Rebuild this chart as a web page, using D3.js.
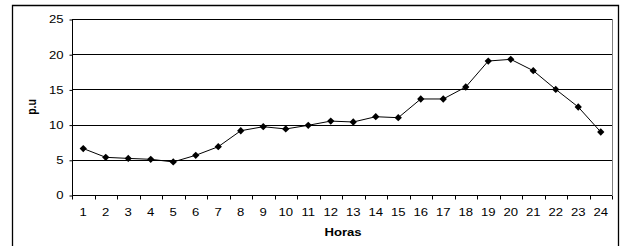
<!DOCTYPE html>
<html><head><meta charset="utf-8">
<script src="https://cdn.jsdelivr.net/npm/d3@7"></script>
<style>html,body{margin:0;padding:0;background:#fff;overflow:hidden}svg{display:block}</style>
</head><body>
<script>
const hours = [1,2,3,4,5,6,7,8,9,10,11,12,13,14,15,16,17,18,19,20,21,22,23,24];
const values = [6.6,5.35,5.2,5.07,4.7,5.64,6.86,9.13,9.7,9.38,9.9,10.5,10.37,11.12,10.98,13.64,13.64,15.34,19.03,19.27,17.66,15.0,12.5,8.95];
const yTicks = [0,5,10,15,20,25];

const W=624,H=246;
const FONT="Arial, 'Liberation Sans', sans-serif";
const svg=d3.select("body").append("svg").attr("width",W).attr("height",H);
// outer frame (bottom edge lies outside the picture)
svg.append("path").attr("d","M12.5,250V5.5H618.5V250")
  .attr("fill","none").attr("stroke","#000").attr("stroke-width",1.3);

const L=72,R=612,T=19,B=195;
const x=d3.scaleBand().domain(hours).range([L,R]);
const y=d3.scaleLinear().domain([0,25]).range([B,T]);

const g=svg.append("g");
g.selectAll("line.grid").data(yTicks.filter(d=>d>0)).join("line")
  .attr("x1",L).attr("x2",R).attr("y1",d=>Math.round(y(d))+0.5).attr("y2",d=>Math.round(y(d))+0.5)
  .attr("stroke","#000").attr("stroke-width",1);
g.append("line").attr("x1",R+0.5).attr("x2",R+0.5).attr("y1",T).attr("y2",B).attr("stroke","#808080");

// y axis
const ya=svg.append("g").attr("transform",`translate(${L+0.5},0.5)`)
  .call(d3.axisLeft(y).tickValues(yTicks).tickSize(3).tickPadding(0));
ya.select(".domain").attr("d",`M0,${T}V${B}`);
ya.selectAll("text").attr("font-family",FONT).attr("font-size","10.5px").attr("fill","#000")
  .attr("x",0).attr("transform","translate(-9,0) scale(1.25,1)");

// x axis
const xa=svg.append("g").attr("transform",`translate(0,${Math.round(B)+0.5})`)
  .call(d3.axisBottom(x).tickSize(0).tickPadding(13));
xa.select(".domain").attr("d",`M${L},0H${R}`);
xa.selectAll("text").attr("font-family",FONT).attr("font-size","10.5px").attr("fill","#000")
  .attr("transform","scale(1.25,1)");
xa.selectAll("line.bt").data(hours.concat([25])).join("line").attr("class","bt")
  .attr("x1",(d,i)=>Math.round(i<24?x(d):R)+0.5).attr("x2",(d,i)=>Math.round(i<24?x(d):R)+0.5)
  .attr("y1",0).attr("y2",4).attr("stroke","#000");

// line
const line=d3.line().x((d,i)=>x(hours[i])+x.bandwidth()/2).y(d=>y(d));
svg.append("path").datum(values).attr("d",line).attr("fill","none").attr("stroke","#000").attr("stroke-width",1);
svg.selectAll("path.m").data(values).join("path").attr("class","m")
  .attr("d",d3.symbol().type(d3.symbolDiamond2).size(34))
  .attr("transform",(d,i)=>`translate(${x(hours[i])+x.bandwidth()/2},${y(d)})`)
  .attr("fill","#000");

// axis titles
svg.append("text").attr("transform","translate(343,236) scale(1.25,1)").attr("text-anchor","middle")
  .attr("font-family",FONT).attr("font-size","10.5px").attr("font-weight","bold").text("Horas");
svg.append("text").attr("transform",`translate(36,107) scale(1.25,1) rotate(-90)`).attr("text-anchor","middle")
  .attr("font-family",FONT).attr("font-size","10.5px").attr("font-weight","bold").text("p.u");
</script>
</body></html>
